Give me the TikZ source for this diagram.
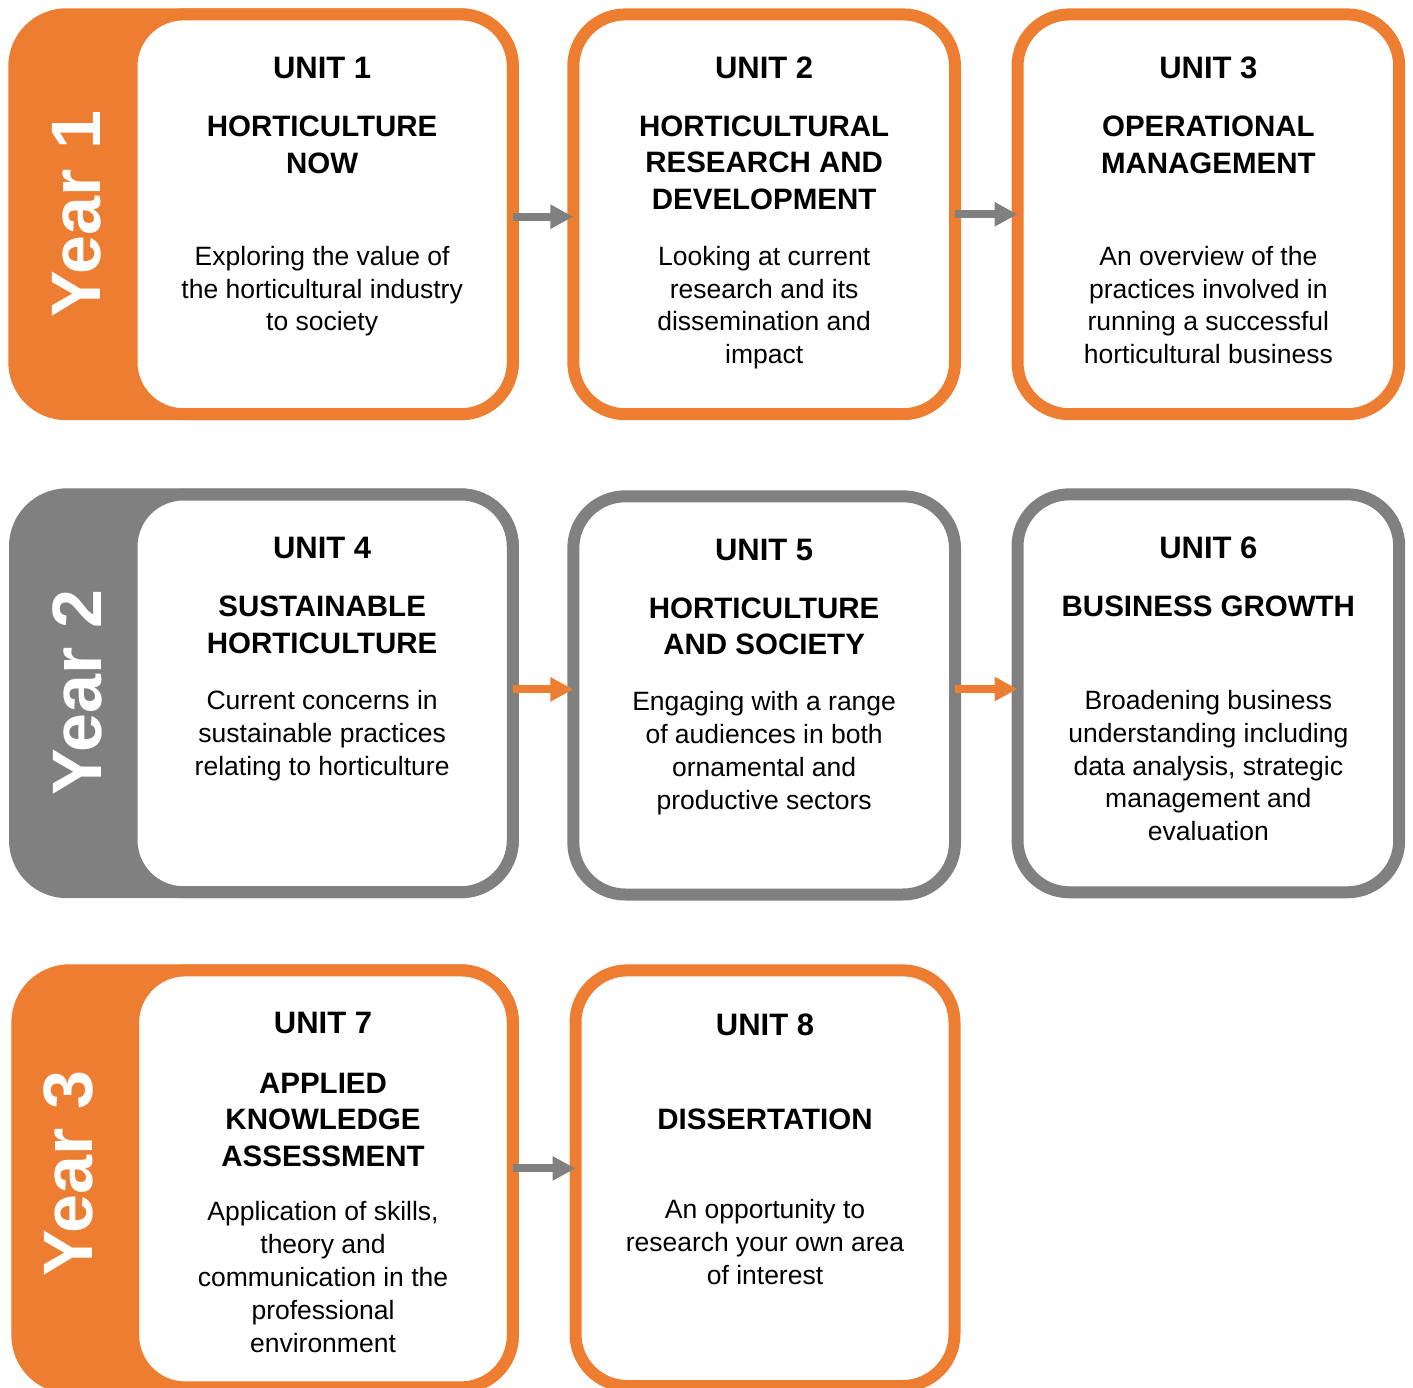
\documentclass[tikz,border=0pt]{standalone}
\usepackage{fontspec}
\setmainfont{Liberation Sans}
\usetikzlibrary{arrows.meta}
\definecolor{uorange}{HTML}{ED7D31}
\definecolor{ugray}{HTML}{808080}
\newcommand\hstrut{\rule{0pt}{25pt}}
\newcommand\bstrut{\rule{0pt}{22pt}}
\begin{document}
\begin{tikzpicture}[x=1pt,y=-1pt,
  unitbox/.style={draw=#1, fill=white, line width=12pt, rounded corners=52pt,
    inner sep=0pt, outer sep=0pt},
  band/.style={fill=#1, rounded corners=58pt},
  yeartext/.style={rotate=90, text=white, inner sep=0pt,
    font=\bfseries\fontsize{70}{80}\selectfont},
  unitlabel/.style={anchor=base, inner sep=0pt,
    font=\bfseries\fontsize{31}{36}\selectfont},
  titletext/.style={anchor=north, inner sep=0pt, align=center,
    font=\bfseries\fontsize{29.5}{36.3}\selectfont},
  bodytext/.style={anchor=north, inner sep=0pt, align=center,
    font=\fontsize{26.5}{32.8}\selectfont},
  flow/.style={draw=#1, line width=8pt, -{Triangle[length=23pt,width=23pt]}}
]
\useasboundingbox (0,0) rectangle (1413,1387);
\clip (0,0) rectangle (1413,1387);

% year bands
\fill[band=uorange] (8.3,8.3) rectangle (518.8,420.2);
\fill[band=ugray] (9,488.3) rectangle (518.8,898.2);
\fill[band=uorange] (11.4,964.3) rectangle (518.8,1393.5);

\node[yeartext] (y1) at (77,214) {Year 1};
\node[yeartext] (y2) at (77,692.5) {Year 2};
\node[yeartext] (y3) at (68,1173.5) {Year 3};

% unit boxes
\node[unitbox=uorange, minimum width=381.3pt, minimum height=399.8pt] (u1) at (322.15,214.3) {};
\node[unitbox=uorange, minimum width=381.7pt, minimum height=399.8pt] (u2) at (764.15,214.3) {};
\node[unitbox=uorange, minimum width=381.7pt, minimum height=399.8pt] (u3) at (1208.35,214.3) {};
\node[unitbox=ugray, minimum width=381.3pt, minimum height=397.7pt] (u4) at (322.15,693.35) {};
\node[unitbox=ugray, minimum width=381.7pt, minimum height=398.2pt] (u5) at (764.15,695.4) {};
\node[unitbox=ugray, minimum width=381.7pt, minimum height=398pt] (u6) at (1208.35,693.3) {};
\node[unitbox=uorange, minimum width=379.6pt, minimum height=417pt] (u7) at (323,1178.9) {};
\node[unitbox=uorange, minimum width=379pt, minimum height=415.7pt] (u8) at (765,1178.2) {};

% arrows
\draw[flow=ugray] ([yshift=-2.4pt]u1.east) -- ([yshift=-2.4pt]u1.east -| u2.west);
\draw[flow=ugray] (u2.east) -- (u3.west);
\draw[flow=uorange] ([yshift=4pt]u4.east) -- ([yshift=4pt]u4.east -| u5.west);
\draw[flow=uorange] ([yshift=6.4pt]u5.east) -- ([yshift=6.4pt]u5.east -| u6.west);
\draw[flow=ugray] ([yshift=10.5pt]u7.east) -- ([yshift=10.5pt]u7.east -| u8.west);

% unit 1
\node[unitlabel] (l1) at (322.15,78.3) {UNIT 1};
\node[titletext] (t1) at (322.15,111.7) {\hstrut HORTICULTURE\\NOW};
\node[bodytext] (b1) at (322.15,243) {\bstrut Exploring the value of\\the horticultural industry\\to society};
% unit 2
\node[unitlabel] (l2) at (764.15,78.3) {UNIT 2};
\node[titletext] (t2) at (764.15,111.2) {\hstrut HORTICULTURAL\\RESEARCH AND\\DEVELOPMENT};
\node[bodytext] (b2) at (764.15,243) {\bstrut Looking at current\\research and its\\dissemination and\\impact};
% unit 3
\node[unitlabel] (l3) at (1208.35,78.3) {UNIT 3};
\node[titletext] (t3) at (1208.35,111.7) {\hstrut OPERATIONAL\\MANAGEMENT};
\node[bodytext] (b3) at (1208.35,243) {\bstrut An overview of the\\practices involved in\\running a successful\\horticultural business};
% unit 4
\node[unitlabel] (l4) at (322.15,558.3) {UNIT 4};
\node[titletext] (t4) at (322.15,591.7) {\hstrut SUSTAINABLE\\HORTICULTURE};
\node[bodytext] (b4) at (322.15,687.3) {\bstrut Current concerns in\\sustainable practices\\relating to horticulture};
% unit 5
\node[unitlabel] (l5) at (764.15,560) {UNIT 5};
\node[titletext] (t5) at (764.15,593.3) {\hstrut HORTICULTURE\\AND SOCIETY};
\node[bodytext] (b5) at (764.15,688.7) {\bstrut Engaging with a range\\of audiences in both\\ornamental and\\productive sectors};
% unit 6
\node[unitlabel] (l6) at (1208.35,558.3) {UNIT 6};
\node[titletext] (t6) at (1208.35,591.7) {\hstrut BUSINESS GROWTH};
\node[bodytext] (b6) at (1208.35,687.3) {\bstrut Broadening business\\understanding including\\data analysis, strategic\\management and\\evaluation};
% unit 7
\node[unitlabel] (l7) at (323,1033.3) {UNIT 7};
\node[titletext] (t7) at (323,1068.3) {\hstrut APPLIED\\KNOWLEDGE\\ASSESSMENT};
\node[bodytext] (b7) at (323,1198.7) {\bstrut Application of skills,\\theory and\\communication in the\\professional\\environment};
% unit 8
\node[unitlabel] (l8) at (765,1035) {UNIT 8};
\node[titletext] (t8) at (765,1104.3) {\hstrut DISSERTATION};
\node[bodytext] (b8) at (765,1196.3) {\bstrut An opportunity to\\research your own area\\of interest};
\end{tikzpicture}
\end{document}
